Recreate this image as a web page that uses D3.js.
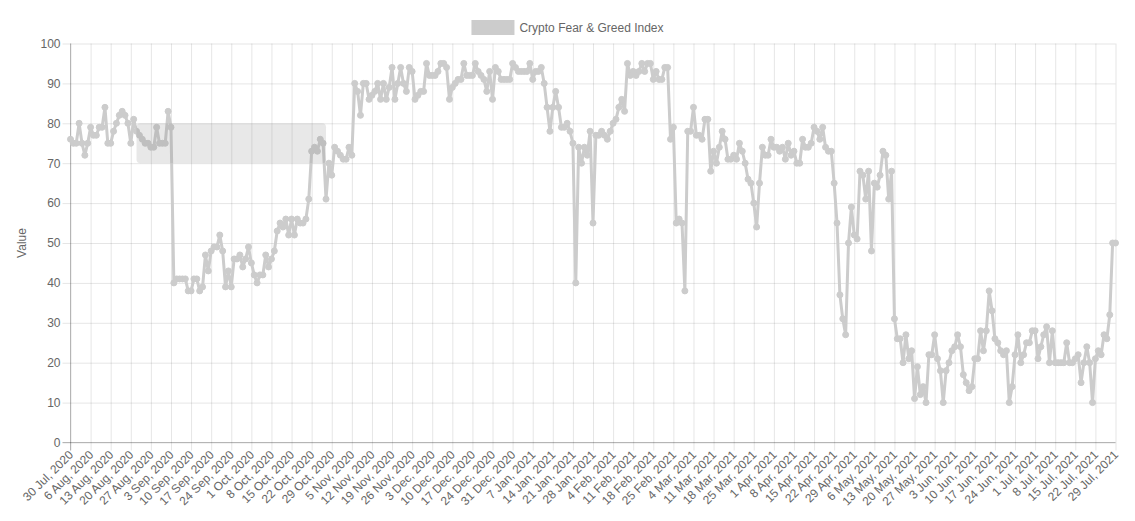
<!DOCTYPE html>
<html><head><meta charset="utf-8">
<script src="https://cdn.jsdelivr.net/npm/d3@7"></script>
<style>
body{margin:0;background:#fff;}
svg{display:block;font-family:"Liberation Sans",Arial,Helvetica,sans-serif;}
</style>
</head><body>
<svg id="chart" width="1135" height="521"></svg>
<script>
const seriesName = "Crypto Fear & Greed Index";
const yTitle = "Value";
// one value per day, 30 Jul 2020 .. 29 Jul 2021
const values = [
76,75,75,80,75,72,75,
79,77,77,79,79,84,75,
75,78,80,82,83,82,80,
75,81,78,77,76,75,75,
74,74,79,75,75,75,83,
79,40,41,41,41,41,38,
38,41,41,38,39,47,43,
48,49,49,52,48,39,43,
39,46,46,47,44,46,49,
45,42,40,42,42,47,44,
46,48,53,55,54,56,52,
56,52,56,55,55,56,61,
73,74,73,76,75,61,70,
67,74,73,72,71,71,74,
72,90,88,82,90,90,86,
87,88,90,86,90,86,89,
94,86,90,94,90,88,94,
93,86,87,88,88,95,92,
92,92,93,95,95,94,86,
89,90,91,91,95,92,92,
92,95,93,92,91,88,93,
86,94,93,91,91,91,91,
95,94,93,93,93,93,95,
91,93,93,94,90,84,78,
84,88,84,79,79,80,78,
75,40,74,70,74,72,78,
55,77,77,78,77,76,78,
80,81,84,86,83,95,92,
93,92,93,95,93,95,95,
91,93,91,91,94,94,76,
79,55,56,55,38,78,78,
84,77,77,76,81,81,68,
73,70,74,78,76,71,71,
72,71,75,73,70,66,65,
60,54,65,74,72,72,76,
74,74,73,74,71,75,72,
73,70,70,76,74,74,75,
79,78,76,79,74,73,73,
65,55,37,31,27,50,59,
52,51,68,67,61,68,48,
65,64,67,73,72,61,68,
31,26,26,20,27,21,23,
11,19,12,14,10,22,22,
27,21,18,10,18,20,23,
24,27,24,17,15,13,14,
21,21,28,23,28,38,33,
26,25,23,22,23,10,14,
22,27,20,22,25,25,28,
28,21,24,27,29,20,28,
20,20,20,20,25,20,20,
21,22,15,20,24,20,10,
21,23,22,27,26,32,50,
50
];
const tickLabels = [
"30 Jul, 2020","6 Aug, 2020","13 Aug, 2020","20 Aug, 2020","27 Aug, 2020",
"3 Sep, 2020","10 Sep, 2020","17 Sep, 2020","24 Sep, 2020",
"1 Oct, 2020","8 Oct, 2020","15 Oct, 2020","22 Oct, 2020","29 Oct, 2020",
"5 Nov, 2020","12 Nov, 2020","19 Nov, 2020","26 Nov, 2020",
"3 Dec, 2020","10 Dec, 2020","17 Dec, 2020","24 Dec, 2020","31 Dec, 2020",
"7 Jan, 2021","14 Jan, 2021","21 Jan, 2021","28 Jan, 2021",
"4 Feb, 2021","11 Feb, 2021","18 Feb, 2021","25 Feb, 2021",
"4 Mar, 2021","11 Mar, 2021","18 Mar, 2021","25 Mar, 2021",
"1 Apr, 2021","8 Apr, 2021","15 Apr, 2021","22 Apr, 2021","29 Apr, 2021",
"6 May, 2021","13 May, 2021","20 May, 2021","27 May, 2021",
"3 Jun, 2021","10 Jun, 2021","17 Jun, 2021","24 Jun, 2021",
"1 Jul, 2021","8 Jul, 2021","15 Jul, 2021","22 Jul, 2021","29 Jul, 2021"
];
const tickEvery = 7; // days between labelled ticks
const yTicks = [0,10,20,30,40,50,60,70,80,90,100];
// highlighted zone (day index range, value range)
const zoneDays = [23, 89];
const zoneValues = [70, 80];

const svg = d3.select("#chart");
const pL = 70.5, pR = 1115.5, pT = 43.5, pB = 442.5;
const lineColor = "rgb(204,204,204)";
const textColor = "#666";

const x = d3.scaleLinear().domain([0, values.length - 1]).range([pL, pR]);
const y = d3.scaleLinear().domain([0, 100]).range([pB, pT]);

// Y axis with gridlines
const gy = svg.append("g").attr("transform", `translate(${pL},0)`)
  .call(d3.axisLeft(y).tickValues(yTicks).tickSizeInner(-(pR - pL)).tickSizeOuter(0).tickPadding(10));
gy.select(".domain").remove();
gy.selectAll(".tick line").attr("x1", -8).attr("stroke", "rgba(0,0,0,0.1)");
gy.selectAll(".tick text").attr("fill", textColor).style("font-size", "12px")
  .style("font-family", '"Liberation Sans",Arial,sans-serif');

// X axis with gridlines
const tickIdx = tickLabels.map((d, i) => i * tickEvery);
const gx = svg.append("g").attr("transform", `translate(0,${pB})`)
  .call(d3.axisBottom(x).tickValues(tickIdx).tickFormat((d, i) => tickLabels[i])
    .tickSizeInner(-(pB - pT)).tickSizeOuter(0).tickPadding(0));
gx.select(".domain").remove();
gx.selectAll(".tick line").attr("y1", 8).attr("stroke", "rgba(0,0,0,0.1)");
gx.selectAll(".tick text")
  .attr("fill", textColor).style("font-size", "12px")
  .style("font-family", '"Liberation Sans",Arial,sans-serif')
  .attr("text-anchor", "end")
  .attr("dy", null)
  .attr("y", 0)
  .attr("transform", "translate(3,13) rotate(-45)");

// darker axis lines
svg.append("line").attr("x1", pL).attr("x2", pL).attr("y1", pT).attr("y2", pB + 8)
  .attr("stroke", "rgba(0,0,0,0.25)");
svg.append("line").attr("x1", pL - 8).attr("x2", pR).attr("y1", pB).attr("y2", pB)
  .attr("stroke", "rgba(0,0,0,0.25)");

// y title
svg.append("text").attr("transform", `translate(26,${(pT + pB) / 2}) rotate(-90)`)
  .attr("text-anchor", "middle").attr("fill", textColor).style("font-size", "12px").text(yTitle);

// line
const line = d3.line().x((d, i) => x(i)).y(d => y(d));
svg.append("path").datum(values).attr("d", line)
  .attr("fill", "none").attr("stroke", lineColor).attr("stroke-width", 3)
  .attr("stroke-linejoin", "round");
svg.append("g").selectAll("circle").data(values).join("circle")
  .attr("cx", (d, i) => x(i)).attr("cy", d => y(d)).attr("r", 3)
  .attr("fill", lineColor).attr("stroke", lineColor).attr("stroke-width", 1);

// highlight zone
svg.append("rect")
  .attr("x", x(zoneDays[0])).attr("y", y(zoneValues[1]))
  .attr("width", x(zoneDays[1]) - x(zoneDays[0]))
  .attr("height", y(zoneValues[0]) - y(zoneValues[1]))
  .attr("rx", 4).attr("ry", 4)
  .attr("fill", "rgba(140,140,140,0.2)");

// legend
const lg = svg.append("g");
const lt = lg.append("text").attr("x", 0).attr("y", 32).attr("fill", textColor)
  .style("font-size", "12px").text(seriesName);
const tw = lt.node().getComputedTextLength();
const total = 40 + 8 + tw;
const lx = (1135 - total) / 2;
lg.insert("rect", "text").attr("x", lx + 1.5).attr("y", 21.5).attr("width", 40).attr("height", 12)
  .attr("fill", lineColor).attr("stroke", lineColor).attr("stroke-width", 3);
lt.attr("x", lx + 48);
</script>
</body></html>
